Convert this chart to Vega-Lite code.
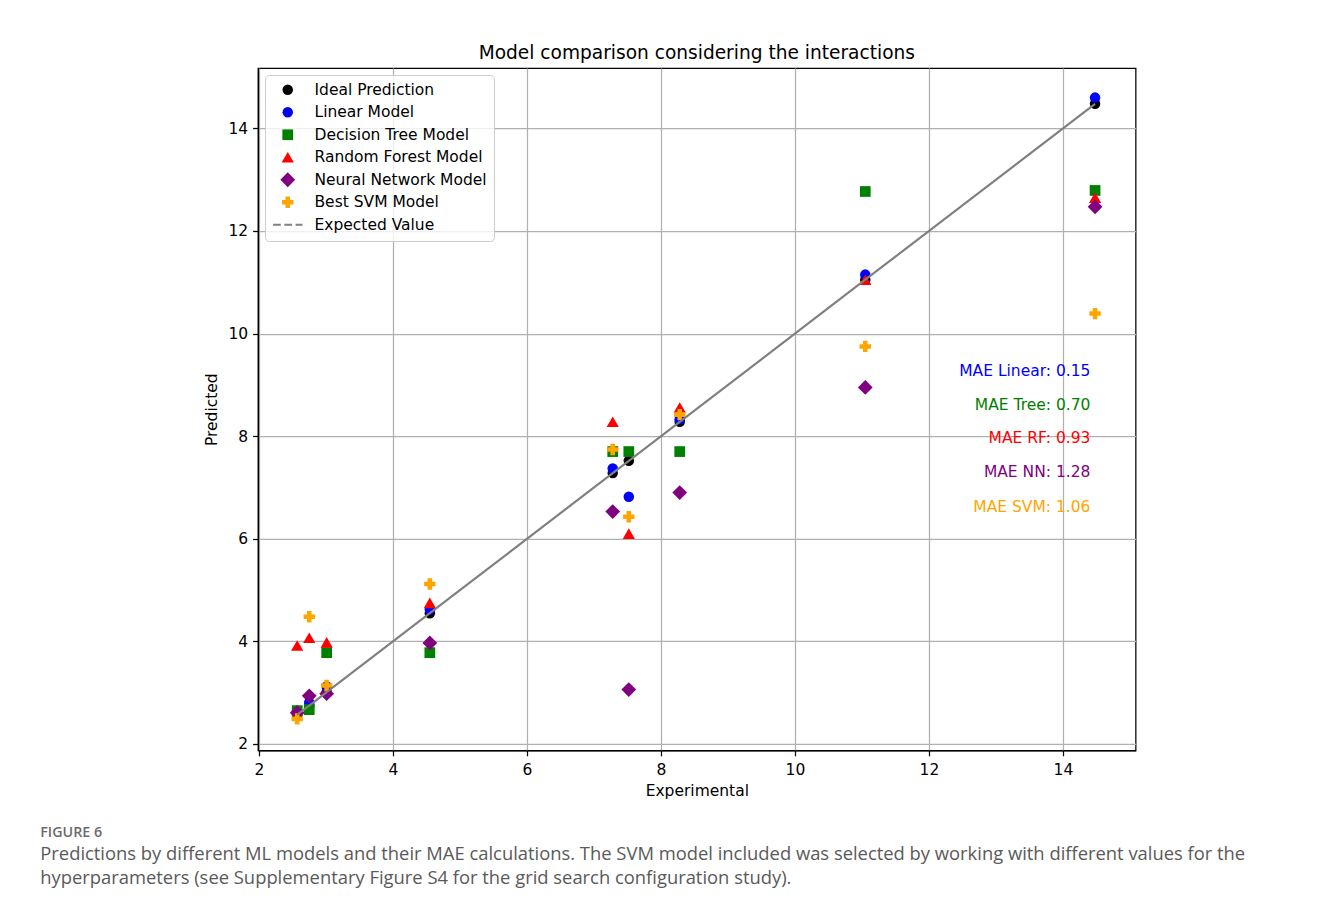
{
  "$schema": "https://vega.github.io/schema/vega-lite/v6.json",
  "background": "white",
  "padding": {"left": 40, "top": 43, "right": 10, "bottom": 10},
  "datasets": {
    "pred": [
      {"model": "Ideal Prediction", "experimental": 2.57, "predicted": 2.57},
      {"model": "Ideal Prediction", "experimental": 2.75, "predicted": 2.75},
      {"model": "Ideal Prediction", "experimental": 3.01, "predicted": 3.01},
      {"model": "Ideal Prediction", "experimental": 4.55, "predicted": 4.55},
      {"model": "Ideal Prediction", "experimental": 7.28, "predicted": 7.28},
      {"model": "Ideal Prediction", "experimental": 7.52, "predicted": 7.52},
      {"model": "Ideal Prediction", "experimental": 8.28, "predicted": 8.28},
      {"model": "Ideal Prediction", "experimental": 11.05, "predicted": 11.05},
      {"model": "Ideal Prediction", "experimental": 14.48, "predicted": 14.48},
      {"model": "Linear Model", "experimental": 2.57, "predicted": 2.65},
      {"model": "Linear Model", "experimental": 2.75, "predicted": 2.81},
      {"model": "Linear Model", "experimental": 3.01, "predicted": 3.12},
      {"model": "Linear Model", "experimental": 4.55, "predicted": 4.62},
      {"model": "Linear Model", "experimental": 7.28, "predicted": 7.37},
      {"model": "Linear Model", "experimental": 7.52, "predicted": 6.82},
      {"model": "Linear Model", "experimental": 8.28, "predicted": 8.33},
      {"model": "Linear Model", "experimental": 11.05, "predicted": 11.15},
      {"model": "Linear Model", "experimental": 14.48, "predicted": 14.6},
      {"model": "Decision Tree Model", "experimental": 2.57, "predicted": 2.65},
      {"model": "Decision Tree Model", "experimental": 2.75, "predicted": 2.67},
      {"model": "Decision Tree Model", "experimental": 3.01, "predicted": 3.78},
      {"model": "Decision Tree Model", "experimental": 4.55, "predicted": 3.78},
      {"model": "Decision Tree Model", "experimental": 7.28, "predicted": 7.7},
      {"model": "Decision Tree Model", "experimental": 7.52, "predicted": 7.7},
      {"model": "Decision Tree Model", "experimental": 8.28, "predicted": 7.7},
      {"model": "Decision Tree Model", "experimental": 11.05, "predicted": 12.77},
      {"model": "Decision Tree Model", "experimental": 14.48, "predicted": 12.79},
      {"model": "Random Forest Model", "experimental": 2.57, "predicted": 3.92},
      {"model": "Random Forest Model", "experimental": 2.75, "predicted": 4.07},
      {"model": "Random Forest Model", "experimental": 3.01, "predicted": 3.98},
      {"model": "Random Forest Model", "experimental": 4.55, "predicted": 4.75},
      {"model": "Random Forest Model", "experimental": 7.28, "predicted": 8.28},
      {"model": "Random Forest Model", "experimental": 7.52, "predicted": 6.1},
      {"model": "Random Forest Model", "experimental": 8.28, "predicted": 8.56},
      {"model": "Random Forest Model", "experimental": 11.05, "predicted": 11.05},
      {"model": "Random Forest Model", "experimental": 14.48, "predicted": 12.65},
      {"model": "Neural Network Model", "experimental": 2.57, "predicted": 2.61},
      {"model": "Neural Network Model", "experimental": 2.75, "predicted": 2.94},
      {"model": "Neural Network Model", "experimental": 3.01, "predicted": 2.98},
      {"model": "Neural Network Model", "experimental": 4.55, "predicted": 3.97},
      {"model": "Neural Network Model", "experimental": 7.28, "predicted": 6.53},
      {"model": "Neural Network Model", "experimental": 7.52, "predicted": 3.06},
      {"model": "Neural Network Model", "experimental": 8.28, "predicted": 6.9},
      {"model": "Neural Network Model", "experimental": 11.05, "predicted": 8.95},
      {"model": "Neural Network Model", "experimental": 14.48, "predicted": 12.47},
      {"model": "Best SVM Model", "experimental": 2.57, "predicted": 2.49},
      {"model": "Best SVM Model", "experimental": 2.75, "predicted": 4.48},
      {"model": "Best SVM Model", "experimental": 3.01, "predicted": 3.14},
      {"model": "Best SVM Model", "experimental": 4.55, "predicted": 5.12},
      {"model": "Best SVM Model", "experimental": 7.28, "predicted": 7.74},
      {"model": "Best SVM Model", "experimental": 7.52, "predicted": 6.43},
      {"model": "Best SVM Model", "experimental": 8.28, "predicted": 8.42},
      {"model": "Best SVM Model", "experimental": 11.05, "predicted": 9.75},
      {"model": "Best SVM Model", "experimental": 14.48, "predicted": 10.39}
    ],
    "mae": [
      {"model": "Linear Model", "label": "MAE Linear: 0.15", "ax": 14.41, "ay": 9.18},
      {"model": "Decision Tree Model", "label": "MAE Tree: 0.70", "ax": 14.41, "ay": 8.52},
      {"model": "Random Forest Model", "label": "MAE RF: 0.93", "ax": 14.41, "ay": 7.86},
      {"model": "Neural Network Model", "label": "MAE NN: 1.28", "ax": 14.41, "ay": 7.2},
      {"model": "Best SVM Model", "label": "MAE SVM: 1.06", "ax": 14.41, "ay": 6.53}
    ]
  },
  "title": {
    "text": "FIGURE 6",
    "subtitle": [
      "Predictions by different ML models and their MAE calculations. The SVM model included was selected by working with different values for the",
      "hyperparameters (see Supplementary Figure S4 for the grid search configuration study)."
    ],
    "orient": "bottom",
    "anchor": "start",
    "dx": -164,
    "offset": 27,
    "font": "Open Sans",
    "fontSize": 14.3,
    "fontWeight": 600,
    "color": "#6b6b6b",
    "subtitleFont": "Open Sans",
    "subtitleFontSize": 18.4,
    "subtitleColor": "#5a5a5a",
    "subtitleLineHeight": 24,
    "subtitlePadding": 4
  },
  "config": {
    "view": {"stroke": "black", "strokeWidth": 1.25},
    "axis": {
      "labelFont": "DejaVu Sans",
      "labelFontSize": 15.5,
      "labelColor": "black",
      "titleFont": "DejaVu Sans",
      "titleFontSize": 15.5,
      "titleFontWeight": "normal",
      "titleColor": "black",
      "domainColor": "black",
      "domainWidth": 1.25,
      "tickColor": "black",
      "tickWidth": 1.25,
      "tickSize": 5.4,
      "labelPadding": 4,
      "gridColor": "#b0b0b0",
      "gridWidth": 1.25,
      "gridOpacity": 1
    },
    "legend": {
      "orient": "top-left",
      "offset": 7,
      "padding": 7,
      "strokeColor": "#cccccc",
      "cornerRadius": 4,
      "fillColor": "rgba(255,255,255,0.8)",
      "labelFont": "DejaVu Sans",
      "labelFontSize": 15.5,
      "labelColor": "black",
      "labelLimit": 400,
      "rowPadding": 5.5,
      "symbolSize": 130,
      "symbolOffset": 8,
      "labelOffset": 19,
      "symbolStrokeWidth": 0
    }
  },
  "vconcat": [
    {
      "width": 877.6,
      "height": 682.4,
      "title": {
        "text": "Model comparison considering the interactions",
        "font": "DejaVu Sans",
        "fontSize": 18.6,
        "fontWeight": "normal",
        "color": "black",
        "offset": 5
      },
      "layer": [
        {
          "data": {"name": "pred"},
          "mark": {"type": "point", "filled": true, "opacity": 1, "strokeWidth": 0},
          "encoding": {
            "x": {
              "field": "experimental", "type": "quantitative",
              "scale": {"domain": [1.985, 15.085], "nice": false, "zero": false},
              "axis": {"values": [2, 4, 6, 8, 10, 12, 14], "format": "d", "title": "Experimental", "titlePadding": 5, "labelPadding": 7}
            },
            "y": {
              "field": "predicted", "type": "quantitative",
              "scale": {"domain": [1.875, 15.177], "nice": false, "zero": false},
              "axis": {"values": [2, 4, 6, 8, 10, 12, 14], "format": "d", "title": "Predicted", "titlePadding": 8, "labelPadding": 5}
            },
            "color": {
              "field": "model", "type": "nominal",
              "scale": {
                "domain": ["Ideal Prediction", "Linear Model", "Decision Tree Model", "Random Forest Model", "Neural Network Model", "Best SVM Model", "Expected Value"],
                "range": ["#000000", "#0000ff", "#008000", "#ff0000", "#800080", "#ffa500", "#808080"]
              },
              "legend": {"title": null}
            },
            "shape": {
              "field": "model", "type": "nominal",
              "scale": {
                "domain": ["Ideal Prediction", "Linear Model", "Decision Tree Model", "Random Forest Model", "Neural Network Model", "Best SVM Model", "Expected Value"],
                "range": ["circle", "circle", "square", "triangle-up", "M-1.15,0L0,-1.15L1.15,0L0,1.15Z", "cross", "M-2.8,-0.2H-1.32V0.2H-2.8Z M-0.65,-0.2H0.82V0.2H-0.65Z M1.49,-0.2H2.8V0.2H1.49Z"]
              },
              "legend": {"title": null}
            },
            "size": {
              "field": "model", "type": "ordinal",
              "scale": {
                "type": "ordinal",
                "domain": ["Ideal Prediction", "Linear Model", "Decision Tree Model", "Random Forest Model", "Neural Network Model", "Best SVM Model", "Expected Value"],
                "range": [110, 110, 115, 150, 165, 130, 110]
              },
              "legend": null
            }
          }
        },
        {
          "data": {"name": "pred"},
          "transform": [{"filter": "datum.model === 'Ideal Prediction'"}],
          "mark": {"type": "line", "color": "#808080", "strokeWidth": 2.2},
          "encoding": {
            "x": {"field": "experimental", "type": "quantitative"},
            "y": {"field": "predicted", "type": "quantitative"}
          }
        },
        {
          "data": {"name": "mae"},
          "mark": {"type": "text", "align": "right", "baseline": "alphabetic", "font": "DejaVu Sans", "fontSize": 15.5},
          "encoding": {
            "x": {"field": "ax", "type": "quantitative"},
            "y": {"field": "ay", "type": "quantitative"},
            "text": {"field": "label"},
            "color": {"field": "model", "type": "nominal"}
          }
        }
      ]
    }
  ]
}
